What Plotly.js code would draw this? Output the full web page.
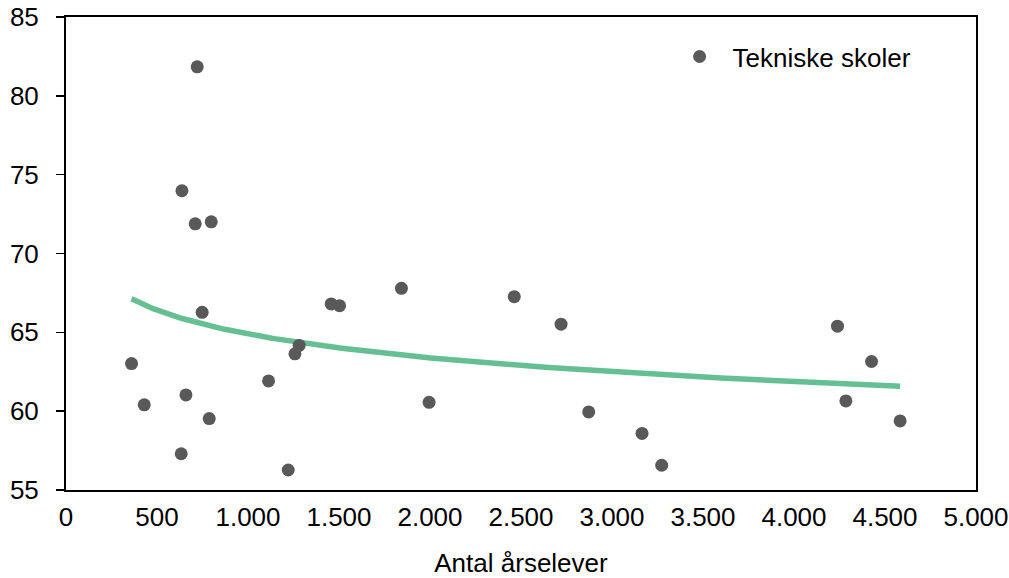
<!DOCTYPE html>
<html>
<head>
<meta charset="utf-8">
<script src="https://cdn.plot.ly/plotly-3.0.1.min.js"></script>
<style>
  html, body { margin: 0; padding: 0; background: #ffffff; }
  #chart { width: 1009px; height: 578px; }
</style>
</head>
<body>
<div id="chart"></div>
<script>
// Antal årselever per skole
const students = [360, 430, 633, 637, 659, 710, 721, 748, 787, 798,
                  1113, 1221, 1258, 1281, 1457, 1503, 1843, 1995,
                  2463, 2720, 2872, 3165, 3273, 4239, 4285, 4426, 4583];
// Resultat per skole
const scores = [63.02, 60.40, 57.30, 73.98, 61.03, 71.88, 81.84, 66.27, 59.53, 72.01,
                61.92, 56.27, 63.64, 64.17, 66.80, 66.69, 67.79, 60.56,
                67.26, 65.52, 59.95, 58.59, 56.57, 65.39, 60.65, 63.15, 59.38];

const seriesName = 'Tekniske skoler';
const xTickVals = [0, 500, 1000, 1500, 2000, 2500, 3000, 3500, 4000, 4500, 5000];
const xTickText = ['0', '500', '1.000', '1.500', '2.000', '2.500', '3.000', '3.500', '4.000', '4.500', '5.000'];
const yTickVals = [55, 60, 65, 70, 75, 80, 85];

// Logarithmic trend line: least-squares fit of score = a + b·ln(students)
const lx = students.map(Math.log);
const n = lx.length;
const mx = lx.reduce((s, v) => s + v, 0) / n;
const my = scores.reduce((s, v) => s + v, 0) / n;
let sxy = 0, sxx = 0;
for (let i = 0; i < n; i++) {
  sxy += (lx[i] - mx) * (scores[i] - my);
  sxx += (lx[i] - mx) * (lx[i] - mx);
}
const b = sxy / sxx;
const a = my - b * mx;
// Sample the fitted curve evenly in ln(x) so the steep left part stays smooth
const lMin = Math.log(Math.min(...students)), lMax = Math.log(Math.max(...students));
const trendX = [], trendY = [];
for (let k = 0; k <= 200; k++) {
  const l = lMin + (lMax - lMin) * k / 200;
  trendX.push(Math.exp(l));
  trendY.push(a + b * l);
}

const font = 'Liberation Sans, Arial, sans-serif';
const textStyle = { family: font, size: 26, color: '#000000' };

const traces = [
  {
    x: trendX, y: trendY, type: 'scatter', mode: 'lines',
    line: { color: '#66bf93', width: 5.5 },
    showlegend: false, hoverinfo: 'skip'
  },
  {
    x: students, y: scores, type: 'scatter', mode: 'markers',
    name: seriesName,
    marker: { color: '#595959', size: 13 }
  }
];

const layout = {
  width: 1009, height: 578,
  margin: { l: 66, r: 33, t: 17, b: 88 },
  paper_bgcolor: '#ffffff', plot_bgcolor: '#ffffff',
  font: textStyle,
  showlegend: true,
  legend: {
    x: 0.660, y: 0.966, xanchor: 'left', yanchor: 'top',
    bgcolor: 'rgba(0,0,0,0)', font: textStyle,
    itemwidth: 56
  },
  xaxis: {
    range: [0, 5000], tickvals: xTickVals, ticktext: xTickText,
    showgrid: false, zeroline: false,
    showline: true, linecolor: '#000000', linewidth: 2, mirror: true,
    ticks: '', ticklabelstandoff: 3,
    tickfont: textStyle,
    title: { text: 'Antal årselever', font: textStyle, standoff: 37 }
  },
  yaxis: {
    range: [55, 85], tickvals: yTickVals,
    showgrid: false, zeroline: false,
    showline: true, linecolor: '#000000', linewidth: 2, mirror: true,
    ticks: 'outside', ticklen: 8, tickwidth: 1.5, tickcolor: '#000000',
    ticklabelstandoff: 12,
    tickfont: textStyle
  }
};

Plotly.newPlot('chart', traces, layout, { displayModeBar: false, staticPlot: true });
</script>
</body>
</html>
